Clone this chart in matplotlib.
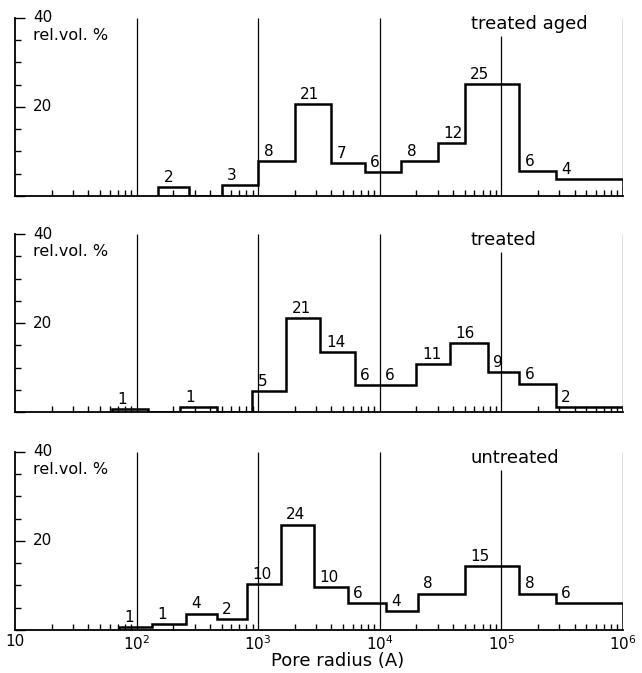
import matplotlib.pyplot as plt
import numpy as np
from matplotlib.ticker import LogLocator, NullFormatter, FixedLocator, MultipleLocator

# pore radius bin edges (Angstrom) and relative volume (%)
aged_edges = [150, 270, 500, 1000, 2000, 4000, 7500, 15000, 30000, 50000, 140000, 280000, 1e6]
aged_vol = [2, 0, 2.5, 7.9, 20.7, 7.4, 5.4, 7.9, 11.9, 25.2, 5.6, 3.8]
aged_labels = ['2', '', '3', '8', '21', '7', '6', '8', '12', '25', '6', '4']

treated_edges = [63, 123, 227, 455, 890, 1700, 3250, 6200, 10000, 20000, 37500, 77000, 140000, 280000, 1e6]
treated_vol = [0.7, 0, 1.1, 0, 4.7, 21.1, 13.5, 6.1, 6.1, 10.8, 15.5, 9, 6.3, 1.2]
treated_labels = ['1', '', '1', '', '5', '21', '14', '6', '6', '11', '16', '9', '6', '2']

untreated_edges = [71, 133, 254, 456, 810, 1530, 2860, 5450, 11200, 20500, 50000, 140000, 280000, 1e6]
untreated_vol = [0.7, 1.3, 3.7, 2.4, 10.4, 23.7, 9.7, 6, 4.2, 8.2, 14.4, 8.2, 6]
untreated_labels = ['1', '1', '4', '2', '10', '24', '10', '6', '4', '8', '15', '8', '6']

names = ['treated aged', 'treated', 'untreated']
decades = [1e2, 1e3, 1e4, 1e5, 1e6]
xtick_labels = ['10', '$10^2$', '$10^3$', '$10^4$', '$10^5$', '$10^6$']

data = [(aged_edges, aged_vol, aged_labels),
        (treated_edges, treated_vol, treated_labels),
        (untreated_edges, untreated_vol, untreated_labels)]

fig = plt.figure(figsize=(6.42, 6.73), dpi=100)
bottoms = [0.7088, 0.3878, 0.0639]

for i, (edges, vol, labels) in enumerate(data):
    ax = fig.add_axes([0.0234, bottoms[i], 0.947, 0.2645])
    ax.set_xscale('log')
    ax.set_xlim(10, 1e6)
    ax.set_ylim(0, 40)

    ax.stairs(vol, edges, color='black', lw=1.8)
    for d in decades:
        top = 36 if d == 1e5 else 40
        ax.vlines(d, 0, top, color='black', lw=0.9)

    for j, lab in enumerate(labels):
        if lab:
            ax.annotate(lab, (edges[j], vol[j]), xytext=(4, 1.5),
                        textcoords='offset points', ha='left', va='bottom', fontsize=11)

    ax.text(5.6e4, 37.5, names[i], fontsize=13, va='baseline', ha='left')
    ax.text(0.03, 40, '40', transform=ax.get_yaxis_transform(), va='center', ha='left', fontsize=11)
    ax.text(0.03, 20, '20', transform=ax.get_yaxis_transform(), va='center', ha='left', fontsize=11)
    ax.text(0.03, 35, 'rel.vol. %', transform=ax.get_yaxis_transform(), va='baseline', ha='left', fontsize=11.5)

    ax.spines[['top', 'right']].set_visible(False)
    ax.spines['left'].set_linewidth(1.3)
    ax.spines['bottom'].set_linewidth(1.3)

    ax.yaxis.set_major_locator(FixedLocator([0, 20, 40]))
    ax.yaxis.set_minor_locator(MultipleLocator(5))
    ax.set_yticklabels([])
    ax.tick_params(axis='y', which='major', direction='in', length=7, width=1)
    ax.tick_params(axis='y', which='minor', direction='in', length=4, width=1)

    ax.xaxis.set_major_locator(FixedLocator([10] + decades))
    ax.xaxis.set_minor_locator(LogLocator(base=10, subs=np.arange(2, 10)))
    ax.xaxis.set_minor_formatter(NullFormatter())
    ax.tick_params(axis='x', which='major', direction='in', length=0)
    ax.tick_params(axis='x', which='minor', direction='in', length=4, width=1)
    if i == 2:
        ax.set_xticklabels(xtick_labels, fontsize=11)
        ax.tick_params(axis='x', which='major', pad=3)
    else:
        ax.set_xticklabels([])

fig.text(338 / 642, 0.004, 'Pore radius (A)', ha='center', va='bottom', fontsize=13)

fig.savefig('out.png', dpi=100)
